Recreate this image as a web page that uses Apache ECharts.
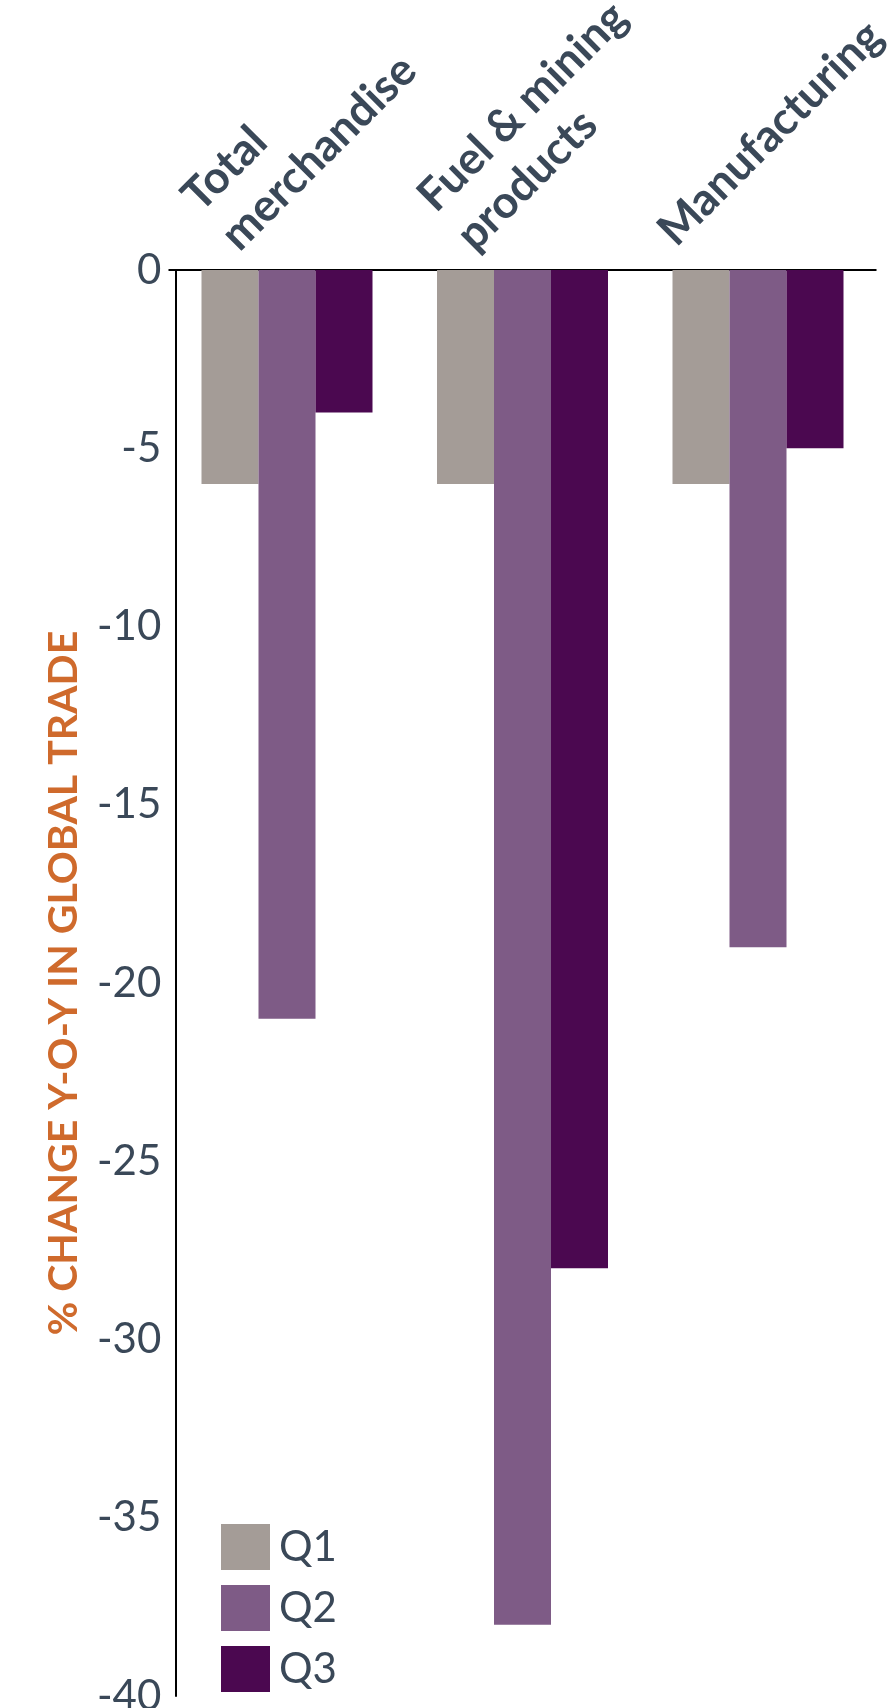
<!DOCTYPE html>
<html><head><meta charset="utf-8">
<script src="https://cdn.jsdelivr.net/npm/echarts@6/dist/echarts.min.js"></script>
<style>html,body{margin:0;padding:0;background:#fff}#c{width:887px;height:1708px}</style>
</head><body><div id="c"></div>
<script>
// ---- data ----
const categories = ['Total\nmerchandise', 'Fuel & mining\nproducts', 'Manufacturing'];
const seriesNames = ['Q1', 'Q2', 'Q3'];
const q1Values = [-6, -6, -6];
const q2Values = [-21, -38, -19];
const q3Values = [-4, -28, -5];
const yMin = -40, yMax = 0, yInterval = 5;
const yAxisTitle = '% CHANGE Y-O-Y IN GLOBAL TRADE';

// ---- style ----
const colors = ['#a49c97', '#7e5b86', '#4b0850'];
const textColor = '#3a4858';
const font = 'Lato';

const chart = echarts.init(document.getElementById('c'), null, {renderer: 'canvas'});
const values = [q1Values, q2Values, q3Values];
const gridBox = {top: 270, width: 706.5, height: 1426, containLabel: false, outerBoundsMode: 'none'};
const lastCategory = categories[categories.length - 1];

chart.setOption({
  animation: false,
  backgroundColor: '#ffffff',
  grid: [
    Object.assign({left: 169.25}, gridBox),
    // label-only grid: same category bands, shifted so the rotated two-line labels sit like the original
    Object.assign({left: 92}, gridBox)
  ],
  legend: {
    orient: 'vertical', left: 221, top: 1524, padding: 0, itemWidth: 49, itemHeight: 46, itemGap: 15,
    icon: 'rect', data: seriesNames,
    textStyle: {fontFamily: font, fontSize: 42, color: textColor, lineHeight: 46, padding: [0, 0, 0, 4]}
  },
  xAxis: [{
    type: 'category', position: 'top', data: categories, gridIndex: 0,
    axisLine: {show: true, onZero: false, lineStyle: {color: '#000', width: 2}},
    axisTick: {show: false},
    axisLabel: {show: false},
    splitLine: {show: false}
  }, {
    type: 'category', position: 'top', data: categories, gridIndex: 1,
    axisLine: {show: false, onZero: false},
    axisTick: {show: false},
    axisLabel: {
      interval: 0, rotate: -45, margin: 47,
      fontFamily: font, fontWeight: 'bold', fontSize: 45, lineHeight: 55, color: textColor,
      formatter: v => v === lastCategory ? '{edge|' + v + '}' : v,
      rich: {edge: {fontFamily: font, fontWeight: 'bold', fontSize: 45, lineHeight: 55, color: textColor, padding: [0, 0, 0, -21]}}
    },
    splitLine: {show: false}
  }],
  yAxis: [{
    type: 'value', min: yMin, max: yMax, interval: yInterval, offset: -6, gridIndex: 0,
    name: yAxisTitle, nameLocation: 'middle', nameRotate: 90, nameGap: 91, nameMoveOverlap: false,
    nameTextStyle: {fontFamily: font, fontWeight: 'bold', fontSize: 41, color: '#cf6a2c'},
    axisLine: {show: true, lineStyle: {color: '#000', width: 2}},
    axisTick: {show: false},
    splitLine: {show: false},
    axisLabel: {margin: 14, fontFamily: font, fontSize: 42, color: textColor}
  }, {
    type: 'value', min: yMin, max: yMax, interval: yInterval, gridIndex: 1, show: false
  }],
  series: seriesNames.map((n, i) => ({
    name: n, type: 'bar', data: values[i], barWidth: 57, barGap: '0%',
    xAxisIndex: 0, yAxisIndex: 0,
    itemStyle: {color: colors[i]}
  }))
});
</script></body></html>
